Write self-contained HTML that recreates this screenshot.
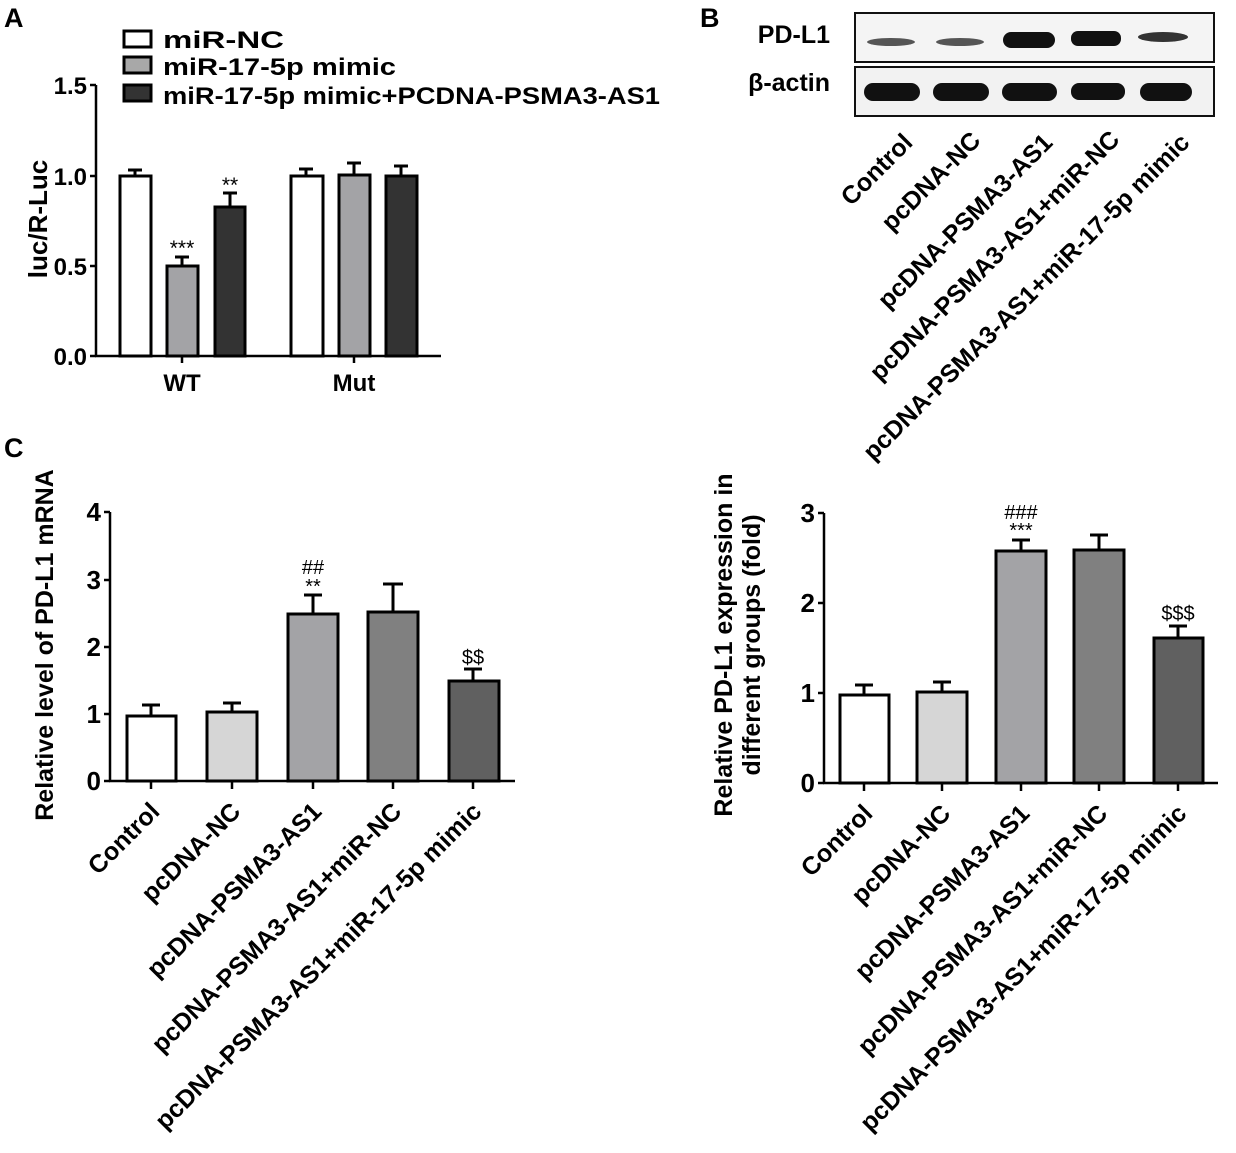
<!DOCTYPE html>
<html><head><meta charset="utf-8"><style>
body{margin:0;background:#fff}
svg{display:block;font-family:"Liberation Sans",Arial,sans-serif;font-weight:bold}
</style></head><body>
<svg width="1236" height="1153" viewBox="0 0 1236 1153" xmlns="http://www.w3.org/2000/svg">
<g fill="#000">
<text x="4" y="27" font-size="27">A</text>
<text x="700" y="27" font-size="27">B</text>
<text x="4" y="457" font-size="27">C</text>
</g>
<!-- Panel A -->
<g stroke="#000" stroke-width="3">
<rect x="124" y="31" width="27" height="16" fill="#fff"/>
<rect x="124" y="57" width="27" height="16" fill="#a8a8a8"/>
<rect x="124" y="85" width="27" height="16" fill="#333"/>
</g>
<g font-size="24">
<text x="163" y="48" textLength="121" lengthAdjust="spacingAndGlyphs">miR-NC</text>
<text x="163" y="75" textLength="233" lengthAdjust="spacingAndGlyphs">miR-17-5p mimic</text>
<text x="163" y="104" textLength="497" lengthAdjust="spacingAndGlyphs">miR-17-5p mimic+PCDNA-PSMA3-AS1</text>
</g>
<g stroke="#000" stroke-width="2.5" fill="none">
<line x1="96" y1="85" x2="96" y2="357"/>
<line x1="95" y1="356" x2="441" y2="356"/>
<line x1="90" y1="85" x2="96" y2="85"/><line x1="90" y1="176" x2="96" y2="176"/><line x1="90" y1="266" x2="96" y2="266"/><line x1="90" y1="356" x2="96" y2="356"/>
<line x1="182" y1="356" x2="182" y2="363"/><line x1="354" y1="356" x2="354" y2="363"/>
</g>
<g font-size="24" text-anchor="end"><text x="87" y="94">1.5</text><text x="87" y="185">1.0</text><text x="87" y="275">0.5</text><text x="87" y="365">0.0</text></g>
<text font-size="26" text-anchor="middle" transform="translate(47 219) rotate(-90)">luc/R-Luc</text>
<g font-size="24" text-anchor="middle"><text x="182" y="391">WT</text><text x="354" y="391">Mut</text></g>
<g stroke="#000" stroke-width="3">
<line x1="135" y1="170" x2="135" y2="176"/><line x1="128" y1="170" x2="142" y2="170"/>
<line x1="182" y1="257" x2="182" y2="266"/><line x1="175" y1="257" x2="189" y2="257"/>
<line x1="230" y1="193" x2="230" y2="207"/><line x1="223" y1="193" x2="237" y2="193"/>
<line x1="306" y1="169" x2="306" y2="176"/><line x1="299" y1="169" x2="313" y2="169"/>
<line x1="354" y1="163" x2="354" y2="175"/><line x1="347" y1="163" x2="361" y2="163"/>
<line x1="401" y1="166" x2="401" y2="176"/><line x1="394" y1="166" x2="408" y2="166"/>
<rect x="120" y="176" width="31" height="180" fill="#fff"/>
<rect x="167" y="266" width="31" height="90" fill="#a3a3a6"/>
<rect x="215" y="207" width="30" height="149" fill="#333"/>
<rect x="291" y="176" width="32" height="180" fill="#fff"/>
<rect x="339" y="175" width="31" height="181" fill="#a3a3a6"/>
<rect x="386" y="176" width="31" height="180" fill="#333"/>
</g>
<g font-size="21" font-weight="normal" text-anchor="middle"><text x="182" y="255">***</text><text x="230" y="192">**</text></g>
<!-- Panel B blot -->
<g font-size="25"><text x="830" y="43" text-anchor="end">PD-L1</text><text x="830" y="91" text-anchor="end">β-actin</text></g>
<rect x="855" y="13" width="359" height="49" fill="#f4f4f4" stroke="#111" stroke-width="2"/>
<rect x="855" y="67" width="359" height="49" fill="#f2f2f2" stroke="#111" stroke-width="2"/>
<g fill="#555"><ellipse cx="891" cy="42" rx="24" ry="4"/><ellipse cx="960" cy="42" rx="24" ry="4"/></g>
<g fill="#111"><rect x="1003" y="32" width="52" height="16" rx="8"/><rect x="1071" y="31" width="50" height="15" rx="7"/><ellipse cx="1163" cy="37" rx="25" ry="5" fill="#333"/>
<rect x="864" y="83" width="56" height="18" rx="9"/><rect x="933" y="83" width="56" height="18" rx="9"/><rect x="1002" y="83" width="55" height="18" rx="9"/><rect x="1071" y="83" width="54" height="17" rx="8"/><rect x="1140" y="83" width="52" height="18" rx="9"/></g>
<g font-size="25" text-anchor="end">
<text transform="translate(914 144) rotate(-45)">Control</text>
<text transform="translate(982 142) rotate(-45)">pcDNA-NC</text>
<text transform="translate(1054 144) rotate(-45)">pcDNA-PSMA3-AS1</text>
<text transform="translate(1121 141) rotate(-45)">pcDNA-PSMA3-AS1+miR-NC</text>
<text transform="translate(1191 144) rotate(-45)">pcDNA-PSMA3-AS1+miR-17-5p mimic</text>
</g>
<!-- Panel C -->
<g stroke="#000" stroke-width="2.5">
<line x1="110" y1="512" x2="110" y2="782"/><line x1="109" y1="781" x2="515" y2="781"/>
<line x1="104" y1="512" x2="110" y2="512"/><line x1="104" y1="580" x2="110" y2="580"/><line x1="104" y1="647" x2="110" y2="647"/><line x1="104" y1="714" x2="110" y2="714"/><line x1="104" y1="781" x2="110" y2="781"/>
<line x1="151" y1="781" x2="151" y2="789"/><line x1="232" y1="781" x2="232" y2="789"/><line x1="313" y1="781" x2="313" y2="789"/><line x1="393" y1="781" x2="393" y2="789"/><line x1="473" y1="781" x2="473" y2="789"/>
</g>
<g font-size="26" text-anchor="end"><text x="101" y="521">4</text><text x="101" y="589">3</text><text x="101" y="656">2</text><text x="101" y="723">1</text><text x="101" y="790">0</text></g>
<text font-size="25" text-anchor="middle" transform="translate(53 645) rotate(-90)">Relative level of PD-L1 mRNA</text>
<g stroke="#000" stroke-width="3">
<line x1="151" y1="705" x2="151" y2="716"/><line x1="142" y1="705" x2="160" y2="705"/>
<line x1="232" y1="703" x2="232" y2="712"/><line x1="223" y1="703" x2="241" y2="703"/>
<line x1="313" y1="595" x2="313" y2="614"/><line x1="304" y1="595" x2="322" y2="595"/>
<line x1="393" y1="584" x2="393" y2="612"/><line x1="383" y1="584" x2="403" y2="584"/>
<line x1="473" y1="669" x2="473" y2="681"/><line x1="464" y1="669" x2="482" y2="669"/>
<rect x="127" y="716" width="49" height="65" fill="#fff"/>
<rect x="207" y="712" width="50" height="69" fill="#d6d6d6"/>
<rect x="288" y="614" width="50" height="167" fill="#a3a3a6"/>
<rect x="368" y="612" width="50" height="169" fill="#808080"/>
<rect x="449" y="681" width="50" height="100" fill="#606060"/>
</g>
<g font-size="20" font-weight="normal" text-anchor="middle"><text x="313" y="574">##</text><text x="313" y="593">**</text><text x="473" y="664">$$</text></g>
<g font-size="25" text-anchor="end">
<text transform="translate(161 813) rotate(-45)">Control</text>
<text transform="translate(242 813) rotate(-45)">pcDNA-NC</text>
<text transform="translate(323 813) rotate(-45)">pcDNA-PSMA3-AS1</text>
<text transform="translate(403 813) rotate(-45)">pcDNA-PSMA3-AS1+miR-NC</text>
<text transform="translate(483 813) rotate(-45)">pcDNA-PSMA3-AS1+miR-17-5p mimic</text>
</g>
<!-- Panel D -->
<g stroke="#000" stroke-width="2.5">
<line x1="824" y1="513" x2="824" y2="784"/><line x1="823" y1="783" x2="1218" y2="783"/>
<line x1="818" y1="513" x2="824" y2="513"/><line x1="818" y1="603" x2="824" y2="603"/><line x1="818" y1="693" x2="824" y2="693"/><line x1="818" y1="783" x2="824" y2="783"/>
<line x1="864" y1="783" x2="864" y2="791"/><line x1="942" y1="783" x2="942" y2="791"/><line x1="1021" y1="783" x2="1021" y2="791"/><line x1="1099" y1="783" x2="1099" y2="791"/><line x1="1178" y1="783" x2="1178" y2="791"/>
</g>
<g font-size="26" text-anchor="end"><text x="815" y="522">3</text><text x="815" y="612">2</text><text x="815" y="702">1</text><text x="815" y="792">0</text></g>
<g font-size="25" text-anchor="middle"><text transform="translate(732 645) rotate(-90)">Relative PD-L1 expression in</text><text transform="translate(760 645) rotate(-90)">different groups (fold)</text></g>
<g stroke="#000" stroke-width="3">
<line x1="864" y1="685" x2="864" y2="695"/><line x1="855" y1="685" x2="873" y2="685"/>
<line x1="942" y1="682" x2="942" y2="692"/><line x1="933" y1="682" x2="951" y2="682"/>
<line x1="1021" y1="540" x2="1021" y2="551"/><line x1="1012" y1="540" x2="1030" y2="540"/>
<line x1="1099" y1="535" x2="1099" y2="550"/><line x1="1090" y1="535" x2="1108" y2="535"/>
<line x1="1178" y1="626" x2="1178" y2="638"/><line x1="1169" y1="626" x2="1187" y2="626"/>
<rect x="840" y="695" width="49" height="88" fill="#fff"/>
<rect x="917" y="692" width="50" height="91" fill="#d6d6d6"/>
<rect x="996" y="551" width="50" height="232" fill="#a3a3a6"/>
<rect x="1074" y="550" width="50" height="233" fill="#808080"/>
<rect x="1154" y="638" width="49" height="145" fill="#606060"/>
</g>
<g font-size="20" font-weight="normal" text-anchor="middle"><text x="1021" y="519">###</text><text x="1021" y="537">***</text><text x="1178" y="620">$$$</text></g>
<g font-size="25" text-anchor="end">
<text transform="translate(874 815) rotate(-45)">Control</text>
<text transform="translate(952 815) rotate(-45)">pcDNA-NC</text>
<text transform="translate(1031 815) rotate(-45)">pcDNA-PSMA3-AS1</text>
<text transform="translate(1109 815) rotate(-45)">pcDNA-PSMA3-AS1+miR-NC</text>
<text transform="translate(1188 815) rotate(-45)">pcDNA-PSMA3-AS1+miR-17-5p mimic</text>
</g>
</svg>
</body></html>
